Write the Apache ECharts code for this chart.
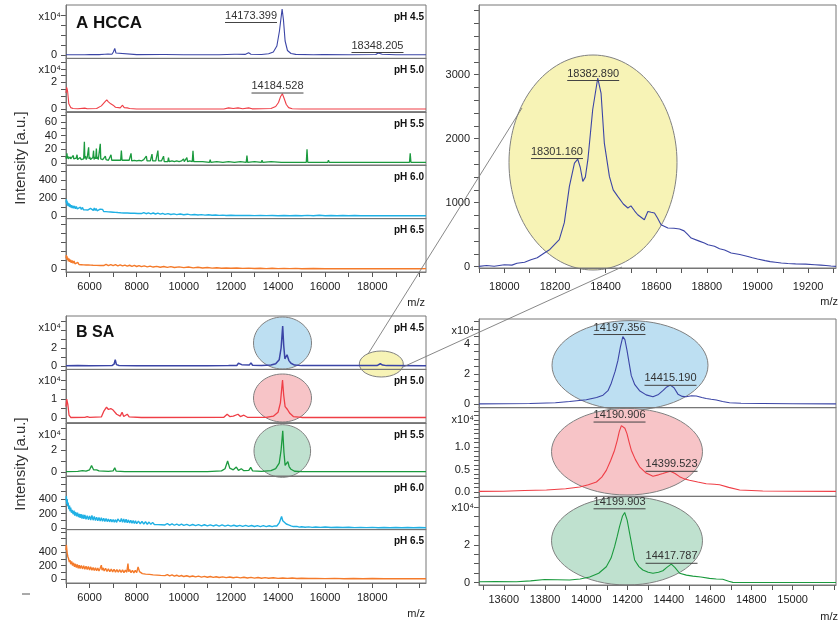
<!DOCTYPE html>
<html><head><meta charset="utf-8">
<script src="https://cdn.jsdelivr.net/npm/echarts@6/dist/echarts.min.js"></script>
<style>html,body{margin:0;padding:0;background:#fff}#c{width:840px;height:627px}</style>
</head><body><div id="c"></div>
<script>
// ---------------- DATA ----------------
// m/z axis ticks and labels
const wideTicks = [5000,6000,7000,8000,9000,10000,11000,12000,13000,14000,15000,16000,17000,18000,19000,20000];
const wideLabels = [6000,8000,10000,12000,14000,16000,18000];
const zoom18kTicks = [17900,18000,18100,18200,18300,18400,18500,18600,18700,18800,18900,19000,19100,19200,19300];
const zoom18kLabels = [18000,18200,18400,18600,18800,19000,19200];
const zoom14kTicks = [13500,13600,13700,13800,13900,14000,14100,14200,14300,14400,14500,14600,14700,14800,14900,15000,15100,15200];
const zoom14kLabels = [13600,13800,14000,14200,14400,14600,14800,15000];

// intensity ticks / labels
const ticksA45 = [0,1,2,3,4], labelsA45 = [0];
const ticksA50 = [0,0.5,1,1.5,2,2.5,3,3.5], labelsA50 = [0,2];
const ticksA55 = [0,10,20,30,40,50,60,70], labelsA55 = [0,20,40,60];
const ticksA60 = [0,100,200,300,400,500], labelsA60 = [0,200,400];
const ticksA65 = [0,100,200,300,400,500], labelsA65 = [0];
const ticksB45 = [0,1,2,3,4,5], labelsB45 = [0,2];
const ticksB50 = [0,0.5,1,1.5,2,2.5], labelsB50 = [0,1];
const ticksB55 = [0,1,2,3,4], labelsB55 = [0,2];
const ticksB60 = [0,100,200,300,400,500,600,700], labelsB60 = [0,200,400];
const ticksB65 = [0,100,200,300,400,500,600,700], labelsB65 = [0,200,400];
const ticksTR = [0,200,400,600,800,1000,1200,1400,1600,1800,2000,2200,2400,2600,2800,3000,3200,3400,3600,3800,4000], labelsTR = [0,1000,2000,3000];
const ticksR45 = [0,0.5,1,1.5,2,2.5,3,3.5,4,4.5,5,5.5], labelsR45 = [0,2,4];
const ticksR50 = [0,0.1,0.2,0.3,0.4,0.5,0.6,0.7,0.8,0.9,1.0,1.1,1.2,1.3,1.4,1.5,1.6,1.7,1.8], labelsR50 = [0,0.5,1.0];
const ticksR55 = [0,0.5,1,1.5,2,2.5,3,3.5,4,4.5], labelsR55 = [0,2];

const phNames = ['pH 4.5','pH 5.0','pH 5.5','pH 6.0','pH 6.5'];

// A HCCA spectra  (x10^4 for pH 4.5/5.0, counts otherwise)
const hccaPH45 = [[5000,0.02],[5300,0.03],[5350,0.1],[5400,0.03],[5700,0.03],[5750,0.12],[5800,0.03],[6000,0.05],[6050,0.1],[6100,0.04],[6300,0.05],[6350,0.12],[6400,0.04],[6650,0.08],[6700,0.22],[6780,0.1],[6950,0.08],[7010,0.3],[7070,0.65],[7120,0.2],[7200,0.06],[8000,0.04],[9050,0.05],[9120,0.2],[9200,0.05],[10000,0.03],[11500,0.03],[12150,0.08],[12200,0.22],[12260,0.08],[12600,0.06],[12750,0.22],[12850,0.08],[13300,0.05],[13600,0.12],[13800,0.3],[13950,0.9],[14060,2.4],[14173,4.6],[14230,3.5],[14300,1.4],[14400,0.45],[14550,0.15],[14750,0.06],[15500,0.03],[15900,0.04],[15950,0.14],[16000,0.04],[17000,0.02],[18150,0.05],[18250,0.2],[18330,0.25],[18420,0.07],[19000,0.02],[20280,0.02]];
const hccaPH50 = [[5000,1.2],[5030,1.65],[5070,1.3],[5120,0.4],[5200,0.12],[5300,0.05],[5500,0.04],[5800,0.08],[5900,0.04],[6300,0.05],[6500,0.25],[6650,0.55],[6730,0.7],[6800,0.55],[6900,0.4],[7000,0.3],[7100,0.15],[7300,0.1],[7400,0.3],[7470,0.12],[7600,0.1],[7700,0.05],[8000,0.02],[11700,0.02],[11900,0.1],[12100,0.05],[12300,0.1],[12500,0.04],[12750,0.1],[12900,0.03],[13700,0.05],[13900,0.2],[14020,0.5],[14110,0.95],[14184,1.15],[14260,0.8],[14350,0.35],[14450,0.12],[14600,0.04],[15000,0.02],[20280,0.02]];
const hccaPH55 = [[5000,9],[5020,6],[5040,14],[5060,7],[5080,10],[5100,6],[5140,8],[5160,5],[5180,9],[5200,6],[5220,8],[5250,5],[5280,7],[5310,11],[5330,6],[5350,8],[5380,5],[5430,7],[5470,12],[5490,5],[5520,7],[5560,5],[5600,8],[5640,5],[5700,7],[5750,6],[5780,31],[5800,7],[5830,10],[5860,5],[5900,8],[5930,6],[5960,23],[5980,6],[6010,9],[6040,5],[6080,7],[6110,5],[6140,8],[6170,18],[6190,5],[6230,9],[6260,6],[6290,21],[6310,6],[6340,9],[6370,5],[6400,7],[6430,5],[6455,28],[6475,6],[6520,8],[6560,5],[6600,6],[6640,5],[6670,10],[6700,5],[6760,6],[6800,4],[6850,5],[6880,4],[6910,12],[6940,4],[7000,5],[7050,4],[7100,5],[7200,4],[7260,6],[7320,4],[7350,18],[7380,4],[7450,5],[7520,4],[7600,5],[7680,4],[7730,4],[7760,14],[7790,3],[7900,4],[8000,3],[8100,4],[8200,3],[8300,5],[8380,3],[8410,10],[8440,3],[8520,4],[8580,3],[8620,4],[8650,13],[8680,3],[8750,5],[8810,3],[8870,4],[8900,18],[8930,3],[9000,4],[9050,3],[9110,3],[9140,10],[9170,2],[9250,3],[9320,2],[9350,8],[9380,2],[9500,3],[9600,2],[9700,3],[9800,2],[9900,3],[9960,2],[9990,6],[10020,2],[10100,2],[10130,8],[10160,2],[10250,3],[10360,2],[10390,18],[10420,2],[10600,2],[10800,2],[11090,1],[11120,5],[11150,1],[11400,2],[11660,1],[11690,3],[11720,1],[11900,2],[12150,1],[12180,3],[12210,1],[12400,2],[12650,1],[12680,11],[12710,1],[13000,2],[13290,1],[13320,4],[13350,1],[13700,2],[14140,1],[14170,3],[14200,1],[14600,1],[15200,1],[15230,20],[15260,1],[16110,1],[16140,4],[16170,1],[17000,1],[18020,1],[18050,3],[18080,1],[19580,1],[19610,14],[19640,1],[20280,1]];
const hccaPH60 = [[5000,150],[5015,185],[5030,130],[5045,170],[5060,115],[5080,150],[5100,110],[5130,140],[5150,100],[5180,130],[5200,95],[5230,120],[5260,88],[5290,115],[5320,85],[5360,110],[5400,80],[5440,105],[5480,78],[5520,100],[5560,75],[5610,98],[5650,72],[5700,95],[5740,70],[5790,92],[5830,68],[5880,88],[5920,66],[5960,85],[6000,64],[6040,84],[6080,62],[6120,95],[6160,62],[6200,90],[6240,60],[6280,84],[6320,58],[6360,80],[6400,56],[6450,76],[6500,54],[6550,74],[6600,50],[6650,70],[6700,48],[6750,66],[6800,46],[6850,62],[6900,44],[6950,60],[7000,42],[7050,58],[7100,40],[7150,56],[7200,38],[7260,54],[7320,36],[7380,50],[7450,34],[7520,48],[7600,33],[7680,46],[7750,31],[7830,44],[7900,30],[7980,42],[8050,28],[8130,40],[8200,27],[8300,38],[8400,25],[8500,35],[8600,24],[8700,33],[8800,22],[8900,31],[9000,20],[9100,28],[9200,18],[9330,26],[9450,17],[9580,24],[9700,15],[9850,22],[10000,14],[10150,20],[10300,12],[10450,17],[10600,11],[10750,15],[10900,9],[11050,13],[11200,8],[11350,11],[11500,7],[11650,10],[11800,6],[12000,8],[12200,5],[12400,7],[12600,5],[12800,6],[13000,4],[13250,6],[13500,4],[13750,6],[14000,3],[14250,5],[14500,3],[14750,6],[15000,3],[15250,7],[15500,3],[15750,8],[16000,3],[16250,6],[16500,2],[16750,5],[17000,2],[17250,5],[17500,2],[17750,4],[18000,2],[18250,4],[18500,2],[18750,4],[19000,2],[19250,4],[19500,2],[19750,4],[20000,2],[20280,3]];
const hccaPH65 = [[5000,120],[5015,155],[5030,110],[5045,140],[5060,100],[5080,125],[5100,85],[5130,115],[5160,80],[5190,105],[5220,70],[5260,95],[5300,65],[5340,88],[5380,58],[5420,80],[5460,55],[5500,74],[5550,50],[5600,70],[5650,48],[5700,68],[5750,46],[5800,64],[5850,45],[5900,62],[5950,44],[6000,60],[6050,43],[6100,58],[6150,42],[6220,56],[6300,41],[6370,55],[6450,40],[6520,54],[6600,39],[6700,52],[6800,38],[6900,50],[7000,37],[7100,48],[7200,35],[7300,46],[7400,34],[7500,44],[7600,32],[7700,42],[7800,30],[7900,40],[8000,28],[8100,38],[8200,26],[8320,35],[8450,24],[8570,32],[8700,22],[8850,30],[9000,20],[9150,28],[9300,18],[9450,26],[9600,17],[9800,24],[10000,15],[10200,22],[10400,13],[10600,19],[10800,12],[11000,17],[11200,10],[11400,14],[11600,9],[11800,12],[12000,8],[12250,11],[12500,7],[12750,10],[13000,6],[13250,9],[13500,5],[13750,8],[14000,4],[14250,7],[14500,4],[14750,7],[15000,3],[15500,6],[16000,3],[16500,5],[17000,3],[17500,5],[18000,3],[18500,5],[19000,3],[19500,5],[20000,3],[20280,4]];

// B SA spectra
const saPH45 = [[5000,0.03],[5500,0.04],[6000,0.03],[6950,0.05],[7040,0.2],[7090,0.7],[7140,0.15],[7250,0.05],[8000,0.03],[9150,0.03],[9210,0.15],[9270,0.03],[11000,0.03],[11900,0.04],[11970,0.15],[12040,0.05],[12250,0.06],[12320,0.3],[12390,0.1],[12460,0.15],[12530,0.05],[12780,0.1],[12850,0.35],[12920,0.08],[13300,0.05],[13700,0.1],[13900,0.25],[14050,0.7],[14130,2.0],[14197,4.45],[14240,2.3],[14290,0.8],[14330,0.9],[14380,1.25],[14415,1.15],[14460,0.6],[14550,0.3],[14700,0.1],[15000,0.04],[16000,0.04],[16070,0.12],[16140,0.04],[18200,0.05],[18340,0.25],[18440,0.1],[18600,0.04],[20280,0.03]];
const saPH50 = [[5000,0.6],[5030,1.0],[5080,0.7],[5130,0.15],[5200,0.03],[5800,0.04],[5900,0.08],[6000,0.04],[6500,0.06],[6600,0.35],[6720,0.58],[6800,0.45],[6900,0.5],[7000,0.42],[7080,0.5],[7150,0.2],[7300,0.1],[7380,0.3],[7450,0.08],[7600,0.2],[7680,0.06],[8200,0.03],[11700,0.04],[11840,0.2],[11950,0.08],[12100,0.1],[12300,0.2],[12400,0.08],[12550,0.15],[12700,0.04],[13500,0.04],[13800,0.1],[14000,0.3],[14100,0.8],[14190,2.0],[14240,1.2],[14300,0.6],[14400,0.45],[14500,0.25],[14650,0.08],[15000,0.03],[20280,0.03]];
const saPH55 = [[5000,0.04],[5500,0.06],[5700,0.12],[5850,0.08],[6000,0.2],[6085,0.6],[6170,0.2],[6300,0.2],[6400,0.1],[6800,0.06],[7000,0.1],[7070,0.38],[7130,0.08],[7500,0.04],[11000,0.04],[11600,0.1],[11750,0.3],[11860,1.0],[11950,0.35],[12100,0.2],[12230,0.45],[12320,0.15],[12440,0.3],[12550,0.12],[12760,0.15],[12840,0.42],[12920,0.1],[13300,0.05],[13700,0.12],[13900,0.3],[14050,0.8],[14130,2.0],[14200,3.75],[14250,1.8],[14300,0.6],[14350,0.7],[14417,0.95],[14470,0.5],[14550,0.25],[14700,0.07],[15000,0.04],[20280,0.04]];
const saPH60 = [[5000,380],[5015,440],[5030,330],[5050,400],[5070,300],[5090,350],[5120,260],[5150,310],[5170,230],[5200,280],[5230,210],[5260,250],[5300,190],[5340,240],[5370,170],[5410,220],[5450,160],[5490,210],[5530,150],[5570,195],[5600,140],[5640,190],[5680,130],[5720,185],[5760,125],[5800,180],[5850,120],[5900,170],[5950,115],[6000,165],[6050,110],[6100,175],[6150,108],[6200,160],[6250,104],[6300,150],[6350,100],[6400,145],[6450,95],[6500,140],[6550,92],[6600,135],[6650,90],[6700,130],[6750,88],[6800,125],[6850,85],[6900,120],[6950,82],[7000,118],[7050,80],[7100,115],[7150,78],[7200,125],[7250,150],[7300,85],[7350,130],[7400,80],[7450,125],[7500,76],[7550,120],[7600,72],[7650,112],[7700,68],[7750,108],[7800,65],[7850,102],[7900,62],[7950,98],[8000,60],[8075,95],[8150,58],[8225,90],[8300,55],[8375,86],[8450,52],[8525,82],[8600,50],[8675,78],[8750,48],[8825,74],[8900,46],[8975,70],[9050,44],[9125,66],[9200,42],[9300,62],[9400,40],[9500,58],[9600,38],[9700,55],[9800,36],[9900,52],[10000,35],[10125,50],[10250,33],[10375,48],[10500,32],[10625,46],[10750,30],[10875,45],[11000,29],[11125,44],[11250,28],[11375,43],[11500,27],[11625,42],[11750,26],[11875,40],[12000,25],[12125,38],[12250,24],[12375,37],[12500,23],[12625,36],[12750,22],[12875,34],[13000,21],[13125,33],[13250,20],[13375,32],[13500,20],[13625,31],[13750,19],[13850,30],[13950,28],[14050,70],[14150,160],[14200,100],[14270,90],[14350,55],[14450,42],[14550,30],[14650,20],[14800,22],[14900,12],[15000,18],[15150,10],[15300,16],[15450,9],[15600,14],[15800,8],[16000,13],[16250,7],[16500,11],[16750,6],[17000,10],[17250,5],[17500,9],[17750,5],[18000,8],[18250,4],[18500,7],[18750,4],[19000,7],[19250,3],[19500,6],[19750,3],[20000,6],[20280,4]];
const saPH65 = [[5000,430],[5015,505],[5030,450],[5050,380],[5080,330],[5110,300],[5140,250],[5170,280],[5200,220],[5240,260],[5280,200],[5320,240],[5360,180],[5400,225],[5440,170],[5480,215],[5520,160],[5560,205],[5600,155],[5650,200],[5700,150],[5750,195],[5800,145],[5850,190],[5900,140],[5950,185],[6000,135],[6050,180],[6100,130],[6150,170],[6200,125],[6250,168],[6300,122],[6350,162],[6400,120],[6450,160],[6500,205],[6530,130],[6580,165],[6620,118],[6680,160],[6740,112],[6800,150],[6860,108],[6920,148],[6980,105],[7040,145],[7100,102],[7160,140],[7220,100],[7280,138],[7340,98],[7400,135],[7460,95],[7520,132],[7580,100],[7630,230],[7660,110],[7700,140],[7760,95],[7820,130],[7880,92],[7940,128],[8000,95],[8060,180],[8090,205],[8120,110],[8180,95],[8240,80],[8300,98],[8380,72],[8460,92],[8540,68],[8620,86],[8700,62],[8780,80],[8860,58],[8940,75],[9020,54],[9100,70],[9200,50],[9300,65],[9400,46],[9500,60],[9600,42],[9700,56],[9800,40],[9900,52],[10000,37],[10125,48],[10250,34],[10375,45],[10500,31],[10625,42],[10750,29],[10875,40],[11000,26],[11125,37],[11250,24],[11375,34],[11500,22],[11650,32],[11800,20],[11950,30],[12100,18],[12250,28],[12400,17],[12550,26],[12700,15],[12850,24],[13000,14],[13150,22],[13300,12],[13450,20],[13600,11],[13800,18],[14000,10],[14200,16],[14400,9],[14600,14],[14800,8],[15000,12],[15300,7],[15600,10],[16000,6],[16400,9],[16800,5],[17200,8],[17600,5],[18000,7],[18500,4],[19000,6],[19500,4],[20000,5],[20280,4]];

// zoom of SA pH 4.5 around 18.3 kDa (counts)
const saPH45zoom18k = [[17900,5],[17930,18],[17960,8],[18000,30],[18030,25],[18050,55],[18080,70],[18105,110],[18130,140],[18158,214],[18180,270],[18198,344],[18217,422],[18237,688],[18257,1255],[18277,1620],[18290,1682],[18300,1550],[18310,1333],[18320,1400],[18330,1672],[18349,2453],[18369,2948],[18382,2714],[18395,1932],[18415,1411],[18430,1200],[18448,1099],[18470,980],[18488,917],[18500,950],[18515,870],[18527,812],[18553,734],[18567,864],[18580,850],[18593,839],[18605,760],[18619,656],[18646,604],[18670,600],[18692,589],[18710,560],[18725,500],[18738,448],[18770,400],[18790,370],[18804,344],[18830,320],[18850,280],[18870,260],[18896,214],[18930,190],[18962,161],[18980,140],[19000,120],[19030,95],[19050,80],[19070,70],[19094,58],[19120,50],[19150,45],[19190,40],[19226,31],[19250,25],[19270,20],[19290,12],[19310,5]];
// zoom of SA pH 4.5 / 5.0 / 5.5 around 14.2 kDa (x10^4)
const saPH45zoom14k = [[13480,0.02],[13600,0.03],[13726,0.05],[13850,0.1],[13919,0.18],[14000,0.3],[14050,0.45],[14081,0.6],[14105,0.9],[14121,1.4],[14140,2.2],[14153,2.9],[14165,3.8],[14177,4.5],[14187,4.3],[14197,3.6],[14208,2.7],[14218,1.9],[14235,1.3],[14258,0.9],[14290,0.62],[14323,0.5],[14350,0.65],[14371,0.9],[14390,1.15],[14407,1.27],[14425,1.1],[14444,0.67],[14465,0.52],[14484,0.5],[14510,0.56],[14533,0.55],[14560,0.45],[14581,0.38],[14605,0.33],[14630,0.28],[14660,0.18],[14694,0.1],[14750,0.06],[14855,0.05],[15000,0.03],[15210,0.02]];
const saPH50zoom14k = [[13480,0.01],[13597,0.015],[13700,0.03],[13807,0.04],[13900,0.07],[13968,0.11],[14010,0.16],[14049,0.22],[14075,0.33],[14097,0.48],[14118,0.7],[14137,0.93],[14150,1.15],[14160,1.35],[14170,1.48],[14177,1.5],[14187,1.42],[14197,1.3],[14208,1.1],[14218,0.93],[14238,0.72],[14258,0.56],[14290,0.42],[14323,0.35],[14350,0.38],[14371,0.41],[14390,0.44],[14407,0.46],[14430,0.41],[14452,0.34],[14475,0.29],[14500,0.26],[14540,0.22],[14581,0.18],[14620,0.17],[14646,0.16],[14690,0.1],[14743,0.04],[14800,0.03],[14855,0.02],[15000,0.015],[15210,0.01]];
const saPH55zoom14k = [[13480,0.05],[13560,0.06],[13661,0.05],[13730,0.1],[13798,0.17],[13860,0.16],[13919,0.14],[13970,0.2],[14016,0.3],[14060,0.5],[14097,0.84],[14120,1.3],[14137,1.9],[14150,2.45],[14161,2.96],[14175,3.5],[14186,3.7],[14198,3.3],[14210,2.6],[14222,1.9],[14234,1.2],[14255,0.85],[14274,0.67],[14300,0.55],[14323,0.5],[14350,0.55],[14371,0.63],[14392,0.82],[14412,0.98],[14430,0.8],[14452,0.5],[14485,0.4],[14516,0.35],[14555,0.3],[14597,0.23],[14630,0.2],[14661,0.18],[14690,0.08],[14710,0.02],[14800,0.01],[15000,0.01],[15210,0.01]];

// peak annotations: panel index, m/z, intensity of the underline anchor, text
const peakPanels = [0,0,1,10,10,11,11,12,12,13,13];
const peakMz     = [13956,18221,13977,18351,18208,14161,14408,14161,14413,14161,14413];
const peakVal    = [3.3,0.3,1.24,2917,1698,4.67,1.29,1.57,0.47,3.92,1.05];
const peakText   = ['14173.399','18348.205','14184.528','18382.890','18301.160','14197.356','14415.190','14190.906','14399.523','14199.903','14417.787'];
const peakAlign  = ['right','center','center','center','center','center','center','center','center','center','center'];

// ---------------- LAYOUT ----------------
const FONT = '"Liberation Sans", Arial, sans-serif';
const C = {blue:'#3b45a6', red:'#ef3e46', green:'#1b9a3e', cyan:'#1fb0e4', orange:'#f47a2a'};
const PH = 53.4, RH = 88.67;
const panels = [
  {d:hccaPH45, c:C.blue,  l:66, t:5,        w:360, h:PH, xr:[5000,20280], xt:wideTicks, xl:null, yr:[-0.34,5.0], yt:ticksA45, yl:labelsA45, exp:true},
  {d:hccaPH50, c:C.red,   l:66, t:5+PH,     w:360, h:PH, xr:[5000,20280], xt:wideTicks, xl:null, yr:[-0.19,3.77], yt:ticksA50, yl:labelsA50, exp:true},
  {d:hccaPH55, c:C.green, l:66, t:5+2*PH,   w:360, h:PH, xr:[5000,20280], xt:wideTicks, xl:null, yr:[-3.2,74.7], yt:ticksA55, yl:labelsA55, lw:1.3},
  {d:hccaPH60, c:C.cyan,  l:66, t:5+3*PH,   w:360, h:PH, xr:[5000,20280], xt:wideTicks, xl:null, yr:[-29,564], yt:ticksA60, yl:labelsA60, lw:1.4},
  {d:hccaPH65, c:C.orange,l:66, t:5+4*PH,   w:360, h:PH, xr:[5000,20280], xt:wideTicks, xl:wideLabels, xm:9, yr:[-33,560], yt:ticksA65, yl:labelsA65, lw:1.4},
  {d:saPH45,   c:C.blue,  l:66, t:316,      w:360, h:PH, xr:[5000,20280], xt:wideTicks, xl:null, yr:[-0.38,5.56], yt:ticksB45, yl:labelsB45, exp:true, lw:1.5},
  {d:saPH50,   c:C.red,   l:66, t:316+PH,   w:360, h:PH, xr:[5000,20280], xt:wideTicks, xl:null, yr:[-0.25,2.56], yt:ticksB50, yl:labelsB50, exp:true, lw:1.3},
  {d:saPH55,   c:C.green, l:66, t:316+2*PH, w:360, h:PH, xr:[5000,20280], xt:wideTicks, xl:null, yr:[-0.38,4.47], yt:ticksB55, yl:labelsB55, exp:true, lw:1.3},
  {d:saPH60,   c:C.cyan,  l:66, t:316+3*PH, w:360, h:PH, xr:[5000,20280], xt:wideTicks, xl:null, yr:[-22,714], yt:ticksB60, yl:labelsB60, lw:1.4},
  {d:saPH65,   c:C.orange,l:66, t:316+4*PH, w:360, h:PH, xr:[5000,20280], xt:wideTicks, xl:wideLabels, xm:9, yr:[-59,732], yt:ticksB65, yl:labelsB65, lw:1.4},
  {d:saPH45zoom18k, c:C.blue, l:479, t:5, w:357, h:263, xr:[17900,19310], xt:zoom18kTicks, xl:zoom18kLabels, xm:13, yr:[-20,4089], yt:ticksTR, yl:labelsTR},
  {d:saPH45zoom14k, c:C.blue, l:479, t:319, w:357, h:RH, xr:[13480,15210], xt:zoom14kTicks, xl:null, yr:[-0.23,5.67], yt:ticksR45, yl:labelsR45, exp:true},
  {d:saPH50zoom14k, c:C.red,  l:479, t:319+RH, w:357, h:RH, xr:[13480,15210], xt:zoom14kTicks, xl:null, yr:[-0.1,1.88], yt:ticksR50, yl:labelsR50, exp:true, fix:1},
  {d:saPH55zoom14k, c:C.green,l:479, t:319+2*RH, w:357, h:RH, xr:[13480,15210], xt:zoom14kTicks, xl:zoom14kLabels, xm:9, yr:[-0.12,4.55], yt:ticksR55, yl:labelsR55, exp:true}
];

const grid=[], xAxis=[], yAxis=[], series=[];
panels.forEach((p,i)=>{
  grid.push({left:p.l, top:p.t, width:p.w, height:p.h, show:true, borderColor:'#777', borderWidth:1, backgroundColor:'transparent', z:1});
  const bottom = !!p.xl;
  xAxis.push({type:'value', gridIndex:i, min:p.xr[0], max:p.xr[1],
    axisLine:{show:true, onZero:false, lineStyle:{color:'#777'}}, splitLine:{show:false},
    axisTick:{show:bottom, customValues:p.xt, length:5, lineStyle:{color:'#555'}},
    axisLabel:{show:bottom, customValues:p.xl||[], margin:p.xm||9, fontSize:11, color:'#222', fontFamily:FONT, formatter:v=>String(v)}});
  yAxis.push({type:'value', gridIndex:i, min:p.yr[0], max:p.yr[1],
    axisLine:{show:true, onZero:false, lineStyle:{color:'#777'}}, splitLine:{show:false},
    axisTick:{show:true, customValues:p.yt, length:5, lineStyle:{color:'#555'}},
    axisLabel:{customValues:p.yl, margin:9, fontSize:11, color:'#222', fontFamily:FONT,
      formatter: p.fix ? (v=>Number(v).toFixed(1)) : (v=>String(v))},
    name: p.exp ? 'x10\u2074' : '', nameLocation:'end', nameGap:-12,
    nameTextStyle:{align:'right', verticalAlign:'middle', padding:[0,5,0,0], fontSize:11, color:'#222', fontFamily:FONT}});
  series.push({type:'line', xAxisIndex:i, yAxisIndex:i, data:p.d, symbol:'none', showSymbol:false,
    lineStyle:{color:p.c, width:p.lw||1.1}, itemStyle:{color:p.c}, z:3, silent:true, animation:false});
});

const chart = echarts.init(document.getElementById('c'));
chart.setOption({animation:false, textStyle:{fontFamily:FONT}, grid, xAxis, yAxis, series});

// ---------------- ANNOTATIONS ----------------
const g = [];
const T = (x,y,text,o={})=>({type:'text', x, y, rotation:o.rot||0, z:10, zlevel:0,
  style:{text, font:`${o.w||'normal'} ${o.s||11}px ${FONT}`, fill:o.f||'#222', align:o.a||'left', verticalAlign:o.v||'middle'}});
const E = (cx,cy,rx,ry,fill)=>({type:'ellipse', z:0, shape:{cx,cy,rx,ry}, style:{fill, stroke:'#808080', lineWidth:1}});
const L = (x1,y1,x2,y2)=>({type:'line', z:10, shape:{x1,y1,x2,y2}, style:{stroke:'#7a7a7a', lineWidth:0.9}});

g.push(E(593,162.5,84,107.5,'#f7f3b6'));
g.push(E(630,365.3,78,44.7,'#bddff2'));
g.push(E(627,451.7,75.5,43.3,'#f7c4c7'));
g.push(E(627,540.8,75.5,44.2,'#bfe1cf'));
g.push(E(282.5,343,29,26,'#bddff2'));
g.push(E(282.5,398,29,24,'#f7c4c7'));
g.push(E(282.3,451,28.3,26.3,'#bfe1cf'));
g.push(E(381.3,364,22,13,'#f7f3b6'));
g.push(L(368,354,522,108));
g.push(L(403,367,622,267));

// pH labels
for (let k=0;k<5;k++){
  g.push(T(424, 5+k*PH+12, phNames[k], {w:'bold', s:10, a:'right', f:'#111'}));
  g.push(T(424, 316+k*PH+12, phNames[k], {w:'bold', s:10, a:'right', f:'#111'}));
}
g.push(T(76,23,'A HCCA',{w:'bold', s:17, f:'#111'}));
g.push(T(76,333,'B SA',{w:'bold', s:16, f:'#111'}));
g.push(T(21,158,'Intensity [a.u.]',{s:15, a:'center', rot:Math.PI/2, f:'#333'}));
g.push(T(21,464,'Intensity [a.u.]',{s:15, a:'center', rot:Math.PI/2, f:'#333'}));
g.push(T(425,303,'m/z',{a:'right'}));
g.push(T(425,614,'m/z',{a:'right'}));
g.push(T(838,302,'m/z',{a:'right'}));
g.push(T(838,617,'m/z',{a:'right'}));
g.push({type:'line', z:10, shape:{x1:22,y1:594,x2:30,y2:594}, style:{stroke:'#555', lineWidth:1}});

// peak labels with underline
const ctx = document.createElement('canvas').getContext('2d');
ctx.font = `11px ${FONT}`;
peakText.forEach((t,k)=>{
  const pi = peakPanels[k];
  const pt = chart.convertToPixel({xAxisIndex:pi, yAxisIndex:pi}, [peakMz[k], peakVal[k]]);
  const w = ctx.measureText(t).width;
  const a = peakAlign[k];
  const x0 = a==='right' ? pt[0]-w : pt[0]-w/2;
  g.push(T(pt[0], pt[1]-1, t, {a, v:'bottom', f:'#333'}));
  g.push({type:'line', z:10, shape:{x1:x0, y1:pt[1]+0.5, x2:x0+w, y2:pt[1]+0.5}, style:{stroke:'#444', lineWidth:1}});
});
chart.setOption({graphic:{elements:g}});
</script></body></html>
